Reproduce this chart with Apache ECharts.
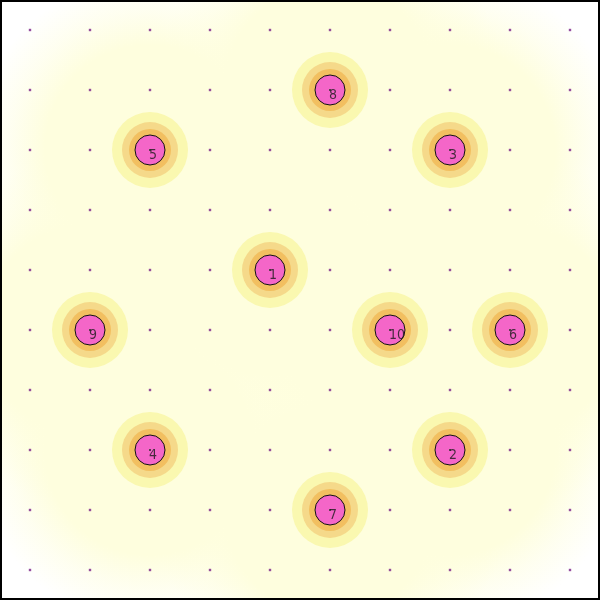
<!DOCTYPE html>
<html>
<head>
<meta charset="utf-8">
<script src="https://cdn.jsdelivr.net/npm/echarts@6/dist/echarts.min.js"></script>
<style>
  html, body { margin: 0; padding: 0; background: #fff; }
  #main { width: 600px; height: 600px; }
</style>
</head>
<body>
<div id="main"></div>
<script>
// 点位数据
var pointLabels = ['1', '2', '3', '4', '5', '6', '7', '8', '9', '10'];
var pointCols = [4.5, 7.5, 7.5, 2.5, 2.5, 8.5, 5.5, 5.5, 1.5, 6.5];
var pointRows = [4.5, 7.5, 2.5, 7.5, 2.5, 5.5, 8.5, 1.5, 5.5, 5.5];
// 网格点
var gridTicks = [0.5, 1.5, 2.5, 3.5, 4.5, 5.5, 6.5, 7.5, 8.5, 9.5];

var points = [];
for (var i = 0; i < pointLabels.length; i++) {
  points.push([pointCols[i], pointRows[i], pointLabels[i]]);
}
var gridDots = [];
gridTicks.forEach(function (gx) {
  gridTicks.forEach(function (gy) {
    gridDots.push([gx, gy]);
  });
});

var ring = function (name, size, color, z, extra) {
  return {
    name: name,
    type: 'scatter',
    data: points,
    symbol: 'circle',
    symbolSize: size,
    silent: true,
    z: z,
    itemStyle: Object.assign({ color: color, opacity: 1 }, extra || {})
  };
};

var chart = echarts.init(document.getElementById('main'));
chart.setOption({
  animation: false,
  backgroundColor: '#fff',
  grid: { left: 0, right: 0, top: 0, bottom: 0 },
  xAxis: { type: 'value', min: 0, max: 10, show: false },
  yAxis: { type: 'value', min: 0, max: 10, inverse: true, show: false },
  series: [
    ring('field', 350, {
      type: 'radial', x: 0.5, y: 0.5, r: 0.5,
      colorStops: [
        { offset: 0, color: 'rgba(254,254,222,1)' },
        { offset: 0.6, color: 'rgba(254,254,222,1)' },
        { offset: 0.8, color: 'rgba(254,254,222,0.45)' },
        { offset: 1, color: 'rgba(254,254,222,0)' }
      ]
    }, 1),
    {
      name: 'grid',
      type: 'scatter',
      data: gridDots,
      symbol: 'rect',
      symbolSize: 2.4,
      silent: true,
      z: 2,
      itemStyle: { color: '#7a1f88' }
    },
    ring('r38', 76, '#faf8b0', 3),
    ring('r28', 56, '#f5d98a', 4),
    ring('r21', 42, '#f2bf60', 5),
    ring('r15', 30, '#f466c8', 6, { borderColor: '#111', borderWidth: 1 }),
    {
      name: 'points',
      type: 'scatter',
      data: points,
      symbol: 'rect',
      symbolSize: 2,
      silent: true,
      z: 7,
      itemStyle: { color: '#333' },
      label: {
        show: true,
        position: 'inside',
        formatter: function (p) { return p.value[2]; },
        align: 'left',
        verticalAlign: 'middle',
        offset: [-1, 5],
        fontSize: 14,
        fontFamily: '"Liberation Sans Narrow", "DejaVu Sans Condensed", sans-serif',
        color: '#1a1a1a'
      }
    }
  ],
  graphic: [
    {
      type: 'rect',
      z: 100,
      silent: true,
      shape: { x: 1, y: 1, width: 598, height: 598 },
      style: { fill: null, stroke: '#000', lineWidth: 2 }
    }
  ]
});
</script>
</body>
</html>
